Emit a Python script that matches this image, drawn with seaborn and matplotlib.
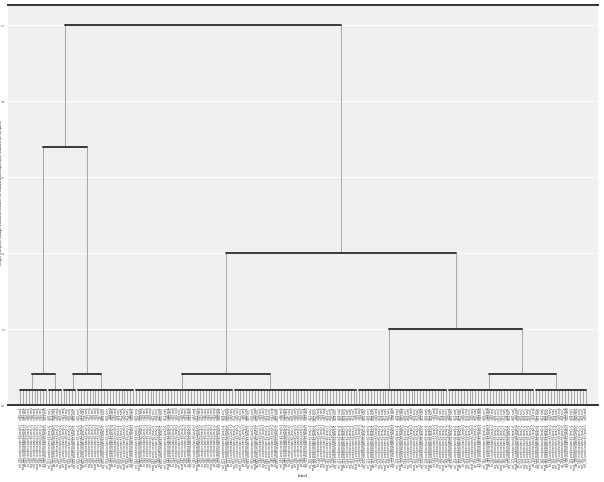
import numpy as np
import pandas as pd
import matplotlib
matplotlib.use("Agg")
import matplotlib.pyplot as plt
import seaborn as sns

# leaf-level clusters: first leaf, last leaf, anchor leaf position, merge height
group_names = ["G1", "G2", "G3", "G4", "G5", "G6", "G7", "G8", "G9"]
group_first = [0, 10, 15, 20, 40, 74, 117, 148, 178]
group_last = [9, 14, 19, 39, 73, 116, 147, 177, 195]
group_anchor = [4.1, 12.1, 18.3, 27.9, 55.9, 86.2, 127.2, 161.7, 184.8]
group_height = [0.2, 0.2, 0.2, 0.2, 0.2, 0.2, 0.2, 0.2, 0.2]

# higher merges (left child, right child, height)
merge_names = ["M1", "M2", "M3", "M4", "M5", "M6", "M7", "M8"]
merge_left = ["G1", "G3", "M1", "G5", "G8", "G7", "M4", "M3"]
merge_right = ["G2", "G4", "M2", "G6", "G9", "M5", "M6", "M7"]
merge_height = [0.41, 0.41, 3.39, 0.41, 0.41, 1.0, 2.0, 5.0]

y_ticks = [0, 1, 2, 3, 4, 5]
y_tick_labels = ["0", "1", "2", "3", "4", "5"]

prefixes = ["ctrl", "treat", "wt", "ko", "rep"]
n_leaves = group_last[-1] + 1
leaf_labels = [f"{prefixes[i % 5]}_{i + 1:03d}.condition.batch{i % 4}.lane{i % 3}.r1      id{(i * 7) % 13:02d}.run{i % 9}"
               for i in range(n_leaves)]

# build segments
segs = []
pos = {}
hgt = {}
sid = 0
for name, a, b, anc, h in zip(group_names, group_first, group_last, group_anchor, group_height):
    segs.append((sid, "h", a, h)); segs.append((sid, "h", b, h)); sid += 1
    for leaf in range(a, b + 1):
        segs.append((sid, "v", leaf, 0)); segs.append((sid, "v", leaf, h)); sid += 1
    pos[name] = anc
    hgt[name] = h

for name, l, r, h in zip(merge_names, merge_left, merge_right, merge_height):
    xl, xr = pos[l], pos[r]
    segs.append((sid, "h", xl, h)); segs.append((sid, "h", xr, h)); sid += 1
    segs.append((sid, "v", xl, hgt[l])); segs.append((sid, "v", xl, h)); sid += 1
    segs.append((sid, "v", xr, hgt[r])); segs.append((sid, "v", xr, h)); sid += 1
    pos[name] = (xl + xr) / 2
    hgt[name] = h

df = pd.DataFrame(segs, columns=["seg", "kind", "x", "y"])

sns.set_style("darkgrid", {"axes.facecolor": "#F0F0F0", "grid.color": "#FFFFFF",
                           "grid.linewidth": 0.8})
fig = plt.figure(figsize=(6.04, 4.82), dpi=100)
ax = fig.add_axes([8 / 604, 1 - 405 / 482, 590 / 604, 400 / 482])

sns.lineplot(data=df[df.kind == "v"], x="x", y="y", units="seg", estimator=None,
             sort=False, color="#9a9a9a", linewidth=0.6, ax=ax)
sns.lineplot(data=df[df.kind == "h"], x="x", y="y", units="seg", estimator=None,
             sort=False, color="#3a3a3a", linewidth=1.4, ax=ax)

ax.set_xlim(-4.14, 199.3)
ax.set_ylim(0, 5.26)
ax.set_yticks(y_ticks)
ax.set_yticklabels(y_tick_labels, fontsize=2.2, rotation=90, va="center")
ax.set_xticks(range(n_leaves))
ax.set_xticklabels(leaf_labels, fontsize=1.8, rotation=90)
ax.tick_params(axis="x", pad=2, length=0)
ax.tick_params(axis="y", pad=0.3, length=1.0, width=0.4)
ax.grid(axis="x", visible=False)
ax.set_xlabel("label", fontsize=3, labelpad=3)
ax.set_ylabel("Height (complete linkage, Euclidean distance on standardised expression features, all samples)",
              fontsize=2.2, color="#111111")
ax.yaxis.set_label_coords(-0.0092, 0.53)

for s in ["left", "right"]:
    ax.spines[s].set_visible(False)
for s in ["top", "bottom"]:
    ax.spines[s].set_visible(True)
    ax.spines[s].set_color("#333333")
    ax.spines[s].set_linewidth(1.4)

fig.savefig("out.png", dpi=100)
